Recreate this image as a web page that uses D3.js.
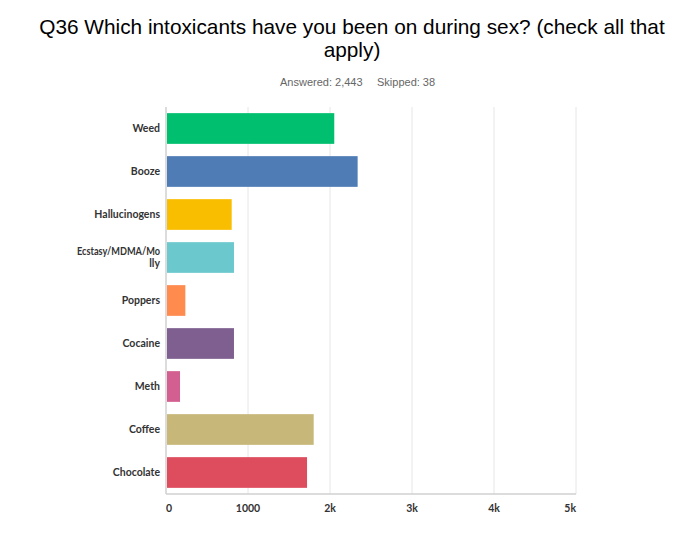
<!DOCTYPE html>
<html><head><meta charset="utf-8">
<script src="https://cdn.jsdelivr.net/npm/d3@7"></script>
<style>body{margin:0;background:#fff;}svg{display:block;}</style>
</head><body>
<svg id="chart" width="700" height="539"></svg>
<script>
const categories = ["Weed","Booze","Hallucinogens","Ecstasy/MDMA/Molly","Poppers","Cocaine","Meth","Coffee","Chocolate"];
const labelLines = [["Weed"],["Booze"],["Hallucinogens"],["Ecstasy/MDMA/Mo","lly"],["Poppers"],["Cocaine"],["Meth"],["Coffee"],["Chocolate"]];
const values = [2052, 2337, 801, 829, 236, 829, 171, 1801, 1720];
const colors = ["#00bf6f","#507cb6","#f9be00","#6bc8cd","#ff8b4f","#7f5f90","#d25f90","#c7b879","#dd4d5e"];
const tickValues = [0,1000,2000,3000,4000,5000];
const tickLabels = ["0","1000","2k","3k","4k","5k"];
const titleLines = ["Q36 Which intoxicants have you been on during sex? (check all that","apply)"];
const subtitle = ["Answered: 2,443", "Skipped: 38"];

const svg = d3.select("#chart");
const x = d3.scaleLinear().domain([0,5000]).range([166,576]);
const y = d3.scaleBand().domain(categories).range([107,494]).paddingInner(0.286).paddingOuter(0.143);

svg.append("g").selectAll("text").data(titleLines).join("text")
  .attr("x",352).attr("y",(d,i)=>34+i*23)
  .attr("text-anchor","middle")
  .attr("font-family","Liberation Sans, Arial, sans-serif")
  .attr("font-size",20.8).attr("fill","#000").text(d=>d);

svg.append("text").attr("x",280).attr("y",86)
  .attr("font-family","Liberation Sans, Arial, sans-serif")
  .attr("font-size",11).attr("fill","#666").text(subtitle[0]);
svg.append("text").attr("x",377).attr("y",86)
  .attr("font-family","Liberation Sans, Arial, sans-serif")
  .attr("font-size",11).attr("fill","#666").text(subtitle[1]);

// gridlines
svg.append("g").selectAll("line").data(tickValues.slice(1)).join("line")
  .attr("x1",d=>x(d)).attr("x2",d=>x(d)).attr("y1",107).attr("y2",494)
  .attr("stroke","#e6e6e6").attr("stroke-width",1);
// left axis line
svg.append("line").attr("x1",x(0)).attr("x2",x(0)).attr("y1",107).attr("y2",494)
  .attr("stroke","#d0d0d0").attr("stroke-width",1.5);
// bottom axis line
svg.append("line").attr("x1",x(0)).attr("x2",x(5000)).attr("y1",494).attr("y2",494)
  .attr("stroke","#d0d0d0").attr("stroke-width",1.5);

// bars
svg.append("g").selectAll("rect").data(categories).join("rect")
  .attr("x",x(0)+1).attr("y",d=>y(d))
  .attr("width",(d,i)=>x(values[i])-x(0)-1)
  .attr("height",y.bandwidth())
  .attr("fill",(d,i)=>colors[i]);

// x tick labels
svg.append("g").selectAll("text").data(tickValues).join("text")
  .attr("x",d=>x(d)).attr("y",512)
  .attr("text-anchor",(d,i)=>i===0?"start":(i===tickValues.length-1?"end":"middle"))
  .attr("font-family","Lato, sans-serif").attr("font-weight","bold")
  .attr("font-size",10.5).attr("fill","#333")
  .text((d,i)=>tickLabels[i]);

// y labels
const yl = svg.append("g").selectAll("text").data(categories).join("text")
  .attr("text-anchor","end")
  .attr("font-family","Lato, sans-serif").attr("font-weight","bold")
  .attr("font-size",10.5).attr("fill","#333");
yl.each(function(d,i){
  const lines = labelLines[i];
  const cy = y(d)+y.bandwidth()/2;
  const lh = 12;
  const start = cy - (lines.length-1)*lh/2 + 3.8;
  d3.select(this).selectAll("tspan").data(lines).join("tspan")
    .attr("x",160).attr("y",(l,j)=>start+j*lh).text(l=>l)
    .each(function(l){
      const w = this.getComputedTextLength();
      if (w > 84) { d3.select(this).attr("textLength",83).attr("lengthAdjust","spacingAndGlyphs"); }
    });
});
</script>
</body></html>
